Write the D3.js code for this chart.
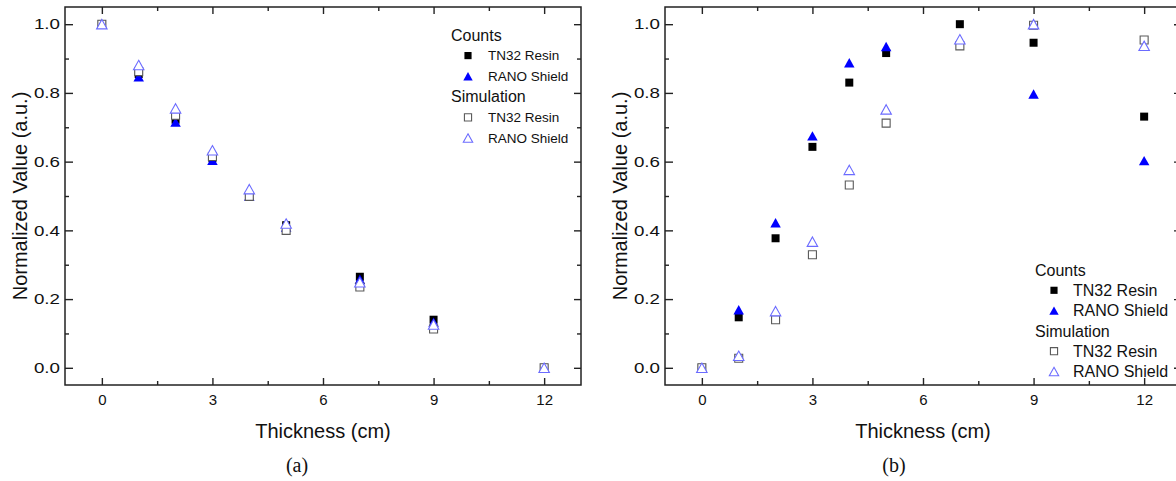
<!DOCTYPE html>
<html>
<head>
<meta charset="utf-8">
<script src="https://cdn.jsdelivr.net/npm/d3@7"></script>
<style>
  body { margin: 0; background: #fff; }
  svg { display: block; }
</style>
</head>
<body>
<svg id="chart" width="1176" height="481"></svg>
<script>
// Thickness positions (cm) and axis ticks
const thickness = [0, 1, 2, 3, 4, 5, 7, 9, 12];
const xTickValues = [0, 3, 6, 9, 12];
const xMinorTicks = [1.5, 4.5, 7.5, 10.5];
const yTickValues = [0.0, 0.2, 0.4, 0.6, 0.8, 1.0];
const yMinorTicks = [0.1, 0.3, 0.5, 0.7, 0.9];

// Panel (a)
const aCountsTN32 = [1.0, 0.855, 0.722, 0.610, 0.500, 0.415, 0.265, 0.140, 0.0];
const aCountsRANO = [1.0, 0.847, 0.715, 0.604, 0.500, 0.410, 0.258, 0.133, 0.0];
const aSimTN32    = [1.0, 0.862, 0.735, 0.615, 0.499, 0.400, 0.235, 0.113, 0.0];
const aSimRANO    = [1.0, 0.881, 0.755, 0.633, 0.520, 0.420, 0.249, 0.126, 0.0];

// Panel (b)
const bCountsTN32 = [0.0, 0.147, 0.377, 0.643, 0.830, 0.916, 1.000, 0.946, 0.731];
const bCountsRANO = [0.0, 0.169, 0.422, 0.675, 0.888, 0.935, null, 0.797, 0.603];
const bSimTN32    = [0.0, 0.028, 0.140, 0.329, 0.532, 0.712, 0.937, 0.997, 0.954];
const bSimRANO    = [0.0, 0.035, 0.165, 0.367, 0.576, 0.752, 0.956, 1.000, 0.937];

const groupLabels = ["Counts", "Simulation"];
const seriesLabels = ["TN32 Resin", "RANO Shield"];
const panelLabels = ["(a)", "(b)"];
const xTitle = "Thickness (cm)";
const yTitle = "Normalized Value (a.u.)";

const SANS = "'Liberation Sans', Arial, sans-serif";
const SERIF = "'Liberation Serif', 'Times New Roman', serif";

// Triangle centred on its bounding box
const boxTriangle = {
  draw(ctx, size) {
    const w = Math.sqrt(size), h = w * 0.9;
    ctx.moveTo(0, -h / 2);
    ctx.lineTo(w / 2, h / 2);
    ctx.lineTo(-w / 2, h / 2);
    ctx.closePath();
  }
};
const styles = {
  countsTN32: { type: d3.symbolSquare, size: 64, fill: "#000", stroke: "none", sw: 0 },
  countsRANO: { type: boxTriangle, size: 110, fill: "#0000ff", stroke: "none", sw: 0 },
  simTN32:    { type: d3.symbolSquare, size: 64, fill: "#fff", stroke: "#5a5a5a", sw: 1.1 },
  simRANO:    { type: boxTriangle, size: 110, fill: "#fff", stroke: "#6b6bff", sw: 1.1 }
};

const svg = d3.select("#chart");
svg.append("rect").attr("width", 1176).attr("height", 481).attr("fill", "#fff");

const plotW = 516, plotH = 378, plotTop = 7;

function drawPanel(left, series, legend, label) {
  const x = d3.scaleLinear().domain([-1, 13]).range([0, plotW]);
  const y = d3.scaleLinear().domain([-0.05, 1.05]).range([plotH, 0]);
  const g = svg.append("g").attr("transform", `translate(${left},${plotTop})`);

  const fmt = d3.format(".1f");
  // major / minor ticks, pointing inward on all four sides
  const axes = [
    [d3.axisBottom(x).tickValues(xTickValues).tickSize(-7).tickPadding(9).tickFormat(d3.format("d")), `translate(0,${plotH})`, "x"],
    [d3.axisBottom(x).tickValues(xMinorTicks).tickSize(-4).tickFormat(""), `translate(0,${plotH})`, null],
    [d3.axisTop(x).tickValues(xTickValues).tickSize(-7).tickFormat(""), null, null],
    [d3.axisTop(x).tickValues(xMinorTicks).tickSize(-4).tickFormat(""), null, null],
    [d3.axisLeft(y).tickValues(yTickValues).tickSize(-8).tickPadding(5).tickFormat(fmt), null, "y"],
    [d3.axisLeft(y).tickValues(yMinorTicks).tickSize(-4).tickFormat(""), null, null],
    [d3.axisRight(y).tickValues(yTickValues).tickSize(-7).tickFormat(""), `translate(${plotW},0)`, null],
    [d3.axisRight(y).tickValues(yMinorTicks).tickSize(-4).tickFormat(""), `translate(${plotW},0)`, null]
  ];
  axes.forEach(([ax, tr, kind]) => {
    const a = g.append("g");
    if (tr) a.attr("transform", tr);
    a.call(ax.tickSizeOuter(0));
    a.select(".domain").remove();
    a.selectAll("line").attr("stroke", "#222").attr("stroke-width", 1.4);
    a.selectAll("text").attr("font-family", SANS).attr("font-size", 15).attr("fill", "#111");
    if (kind === "y") {
      // slightly wide value labels, anchored at their right edge
      a.selectAll("text").attr("x", 0).attr("transform", "translate(-5,0) scale(1.25,1)");
    }
  });

  // frame
  g.append("rect").attr("width", plotW).attr("height", plotH)
    .attr("fill", "none").attr("stroke", "#222").attr("stroke-width", 1.5);

  // markers: counts first, simulation on top
  series.forEach(s => {
    const st = styles[s.style];
    const sym = d3.symbol().type(st.type).size(st.size);
    g.append("g").selectAll("path")
      .data(thickness.map((t, i) => ({ t, v: s.values[i] })).filter(d => d.v !== null))
      .join("path")
      .attr("transform", d => `translate(${x(d.t)},${y(d.v)})`)
      .attr("d", sym)
      .attr("fill", st.fill)
      .attr("stroke", st.stroke)
      .attr("stroke-width", st.sw);
  });

  // axis titles
  g.append("text").attr("x", plotW / 2).attr("y", 431)
    .attr("text-anchor", "middle").attr("font-family", SANS).attr("font-size", 20)
    .attr("fill", "#111").text(xTitle);
  g.append("text").attr("transform", `translate(-38,${plotH / 2}) rotate(-90)`)
    .attr("text-anchor", "middle").attr("font-family", SANS).attr("font-size", 20)
    .attr("fill", "#111").text(yTitle);

  // panel label
  g.append("text").attr("x", label.x).attr("y", 465)
    .attr("text-anchor", "middle").attr("font-family", SERIF).attr("font-size", 20)
    .attr("fill", "#111").text(label.text);

  // legend
  const lg = g.append("g").attr("transform", `translate(${legend.x},${legend.y})`);
  const rows = [
    { head: groupLabels[0] },
    { style: "countsTN32", text: seriesLabels[0] },
    { style: "countsRANO", text: seriesLabels[1] },
    { head: groupLabels[1] },
    { style: "simTN32", text: seriesLabels[0] },
    { style: "simRANO", text: seriesLabels[1] }
  ];
  rows.forEach((r, i) => {
    const cy = i * legend.dy;
    if (r.head) {
      lg.append("text").attr("x", 0).attr("y", cy).attr("dy", "0.35em")
        .attr("font-family", SANS).attr("font-size", 16).attr("fill", "#111").text(r.head);
    } else {
      const st = styles[r.style];
      lg.append("path").attr("transform", `translate(${legend.mx},${cy})`)
        .attr("d", d3.symbol().type(st.type).size(st.size * 0.8)())
        .attr("fill", st.fill).attr("stroke", st.stroke).attr("stroke-width", st.sw);
      lg.append("text").attr("x", legend.tx).attr("y", cy).attr("dy", "0.35em")
        .attr("font-family", SANS).attr("font-size", legend.fs).attr("fill", "#111").text(r.text);
    }
  });
}

drawPanel(65, [
  { values: aCountsTN32, style: "countsTN32" },
  { values: aCountsRANO, style: "countsRANO" },
  { values: aSimTN32, style: "simTN32" },
  { values: aSimRANO, style: "simRANO" }
], { x: 386, y: 28, dy: 20.6, mx: 17, tx: 37, fs: 13.5 }, { x: 232, text: panelLabels[0] });

drawPanel(665, [
  { values: bCountsTN32, style: "countsTN32" },
  { values: bCountsRANO, style: "countsRANO" },
  { values: bSimTN32, style: "simTN32" },
  { values: bSimRANO, style: "simRANO" }
], { x: 370, y: 263, dy: 20.3, mx: 19, tx: 38, fs: 16 }, { x: 229, text: panelLabels[1] });
</script>
</body>
</html>
